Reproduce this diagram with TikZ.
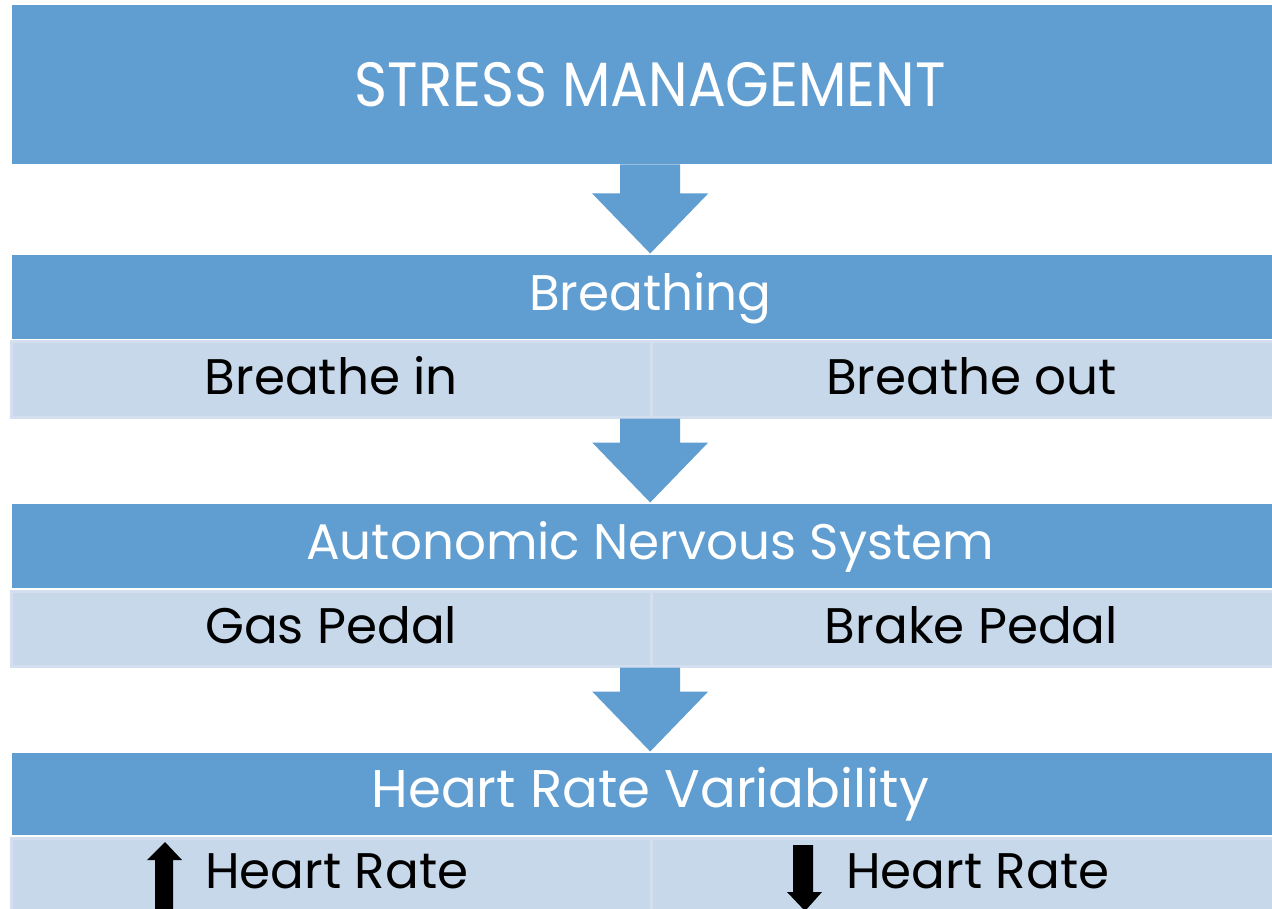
\documentclass[tikz,border=0pt]{standalone}
\usepackage{fontspec}
\setmainfont{Poppins}
\newfontfamily\diagfont{Poppins}
\newfontfamily\titlefont[FakeStretch=0.9]{Poppins}
\usetikzlibrary{positioning}

\definecolor{hdrblue}{RGB}{96,157,209}
\definecolor{cellfill}{RGB}{198,216,234}
\definecolor{celledge}{RGB}{211,223,239}

\begin{document}
\begin{tikzpicture}[x=1pt, y=-1pt,
  hdr/.style={rectangle, fill=hdrblue, text=white, minimum width=1276pt,
              inner sep=0pt, anchor=north west,
              font=\diagfont\fontsize{50}{54}\selectfont,
              text height=36pt, text depth=10pt},
  cell/.style={rectangle, fill=cellfill, draw=celledge, line width=3pt,
               minimum height=75pt, inner sep=0pt, anchor=north west,
               font=\diagfont\fontsize{50}{54}\selectfont,
               text height=32pt, text depth=2pt},
  celltext/.style={inner sep=0pt, font=\diagfont\fontsize{50}{54}\selectfont},
  blk/.style={fill=hdrblue}
]
  \useasboundingbox (0,0) rectangle (1272,909);
  \clip (0,0) rectangle (1272,909);

  % Titre
  \node[hdr, minimum height=159pt, text height=46pt, text depth=3pt,
        font=\titlefont\fontsize{62.5}{66}\selectfont] (title) at (12,5)
    {STRESS MANAGEMENT};

  % Respiration
  \node[cell, minimum width=640.5pt] (cellA1) at (9.5,340.5) {Breathe in};
  \node[cell, minimum width=640pt] (cellA2) at (650,340.5) {Breathe out};
  \node[hdr, minimum height=84pt] (hdrA) at (12,255) {Breathing};

  % Systeme nerveux
  \node[cell, minimum width=640.5pt] (cellB1) at (9.5,589.5) {Gas Pedal};
  \node[cell, minimum width=640pt] (cellB2) at (650,589.5) {Brake Pedal};
  \node[hdr, minimum height=84pt] (hdrB) at (12,504) {Autonomic Nervous System};

  % Variabilite
  \node[cell, minimum width=640.5pt] (cellC1) at (9.5,836.5) {};
  \node[cell, minimum width=640pt] (cellC2) at (650,836.5) {};
  \node[hdr, minimum height=82pt, font=\diagfont\fontsize{53}{56}\selectfont]
    (hdrC) at (12,753) {Heart Rate Variability};
  \node[celltext, anchor=base west] (hrup) at (205,888) {Heart Rate};
  \node[celltext, anchor=base west] (hrdown) at (846,888) {Heart Rate};
  \fill (165,842) -- (182,860) -- (173,860) -- (173,912) -- (155,912)
    -- (155,860) -- (147,860) -- cycle;
  \fill (793,845) -- (813,845) -- (813,892) -- (822,892) -- (805,911)
    -- (787,892) -- (793,892) -- cycle;

  % Fleches
  \foreach \a/\b in {title/hdrA, cellA1/hdrB, cellB1/hdrC} {
    \coordinate (s) at (\a.south -| \b.north);
    \fill[blk] ([xshift=-30pt]s) -- ([xshift=-30pt,yshift=61.5pt]\b.north)
      -- ([xshift=-58pt,yshift=61.5pt]\b.north) -- ([yshift=1.5pt]\b.north)
      -- ([xshift=58pt,yshift=61.5pt]\b.north)
      -- ([xshift=30pt,yshift=61.5pt]\b.north) -- ([xshift=30pt]s) -- cycle;
  }
\end{tikzpicture}
\end{document}
